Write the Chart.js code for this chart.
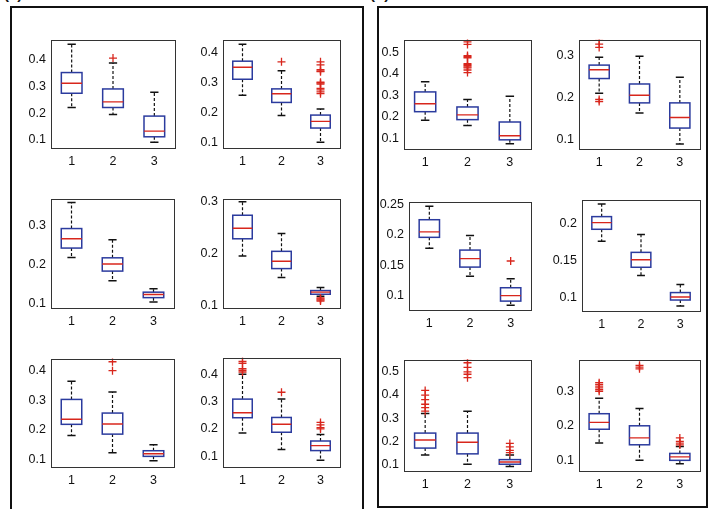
<!DOCTYPE html>
<html>
<head>
<meta charset="utf-8">
<script src="https://cdn.jsdelivr.net/npm/chart.js@4.4.0/dist/chart.umd.min.js"></script>
<style>
  html, body { margin: 0; padding: 0; background: #fff; }
  #page { position: relative; width: 710px; height: 509px; overflow: hidden; background: #fff; }
  .panel { position: absolute; border: 2px solid #111; box-sizing: border-box; }
  .ptitle { position: absolute; font: bold 15px 'Liberation Sans', Arial, sans-serif; color: #111; white-space: nowrap; }
  canvas { position: absolute; }
</style>
</head>
<body>
<div id="page"></div>
<script>
// Panel headings and group labels
const panelTitles = ['(a)', '(b)'];
const categories = ['1', '2', '3'];

// Box statistics, one row per small plot (a1..a6, b1..b6), one value per group
const upperWhisker = [
  [0.456, 0.387, 0.278],
  [0.4265, 0.338, 0.211],
  [0.360, 0.264, 0.139],
  [0.299, 0.238, 0.135],
  [0.364, 0.328, 0.150],
  [0.400, 0.309, 0.180],
  [0.363, 0.281, 0.296],
  [0.296, 0.298, 0.248],
  [0.247, 0.199, 0.128],
  [0.226, 0.185, 0.118],
  [0.320, 0.330, 0.140],
  [0.280, 0.250, 0.140]
];
const upperQuartile = [
  [0.351, 0.290, 0.189],
  [0.370, 0.278, 0.191],
  [0.293, 0.218, 0.130],
  [0.273, 0.204, 0.129],
  [0.303, 0.257, 0.130],
  [0.309, 0.242, 0.156],
  [0.316, 0.246, 0.176],
  [0.277, 0.232, 0.187],
  [0.225, 0.175, 0.113],
  [0.209, 0.161, 0.107],
  [0.235, 0.235, 0.120],
  [0.235, 0.200, 0.120]
];
const medians = [
  [0.311, 0.242, 0.133],
  [0.350, 0.262, 0.170],
  [0.267, 0.202, 0.124],
  [0.248, 0.185, 0.126],
  [0.236, 0.220, 0.120],
  [0.259, 0.217, 0.139],
  [0.261, 0.209, 0.112],
  [0.266, 0.205, 0.152],
  [0.205, 0.161, 0.100],
  [0.201, 0.151, 0.101],
  [0.205, 0.195, 0.110],
  [0.210, 0.165, 0.110]
];
const lowerQuartile = [
  [0.274, 0.221, 0.112],
  [0.310, 0.233, 0.148],
  [0.243, 0.184, 0.116],
  [0.228, 0.171, 0.122],
  [0.219, 0.186, 0.111],
  [0.241, 0.188, 0.121],
  [0.224, 0.187, 0.093],
  [0.245, 0.187, 0.127],
  [0.196, 0.147, 0.091],
  [0.192, 0.141, 0.097],
  [0.170, 0.145, 0.100],
  [0.190, 0.145, 0.100]
];
const lowerWhisker = [
  [0.221, 0.195, 0.092],
  [0.257, 0.190, 0.101],
  [0.219, 0.159, 0.105],
  [0.195, 0.154, 0.118],
  [0.181, 0.123, 0.096],
  [0.185, 0.125, 0.086],
  [0.184, 0.160, 0.075],
  [0.210, 0.163, 0.089],
  [0.178, 0.132, 0.084],
  [0.176, 0.130, 0.089],
  [0.140, 0.100, 0.090],
  [0.150, 0.100, 0.090]
];
const outliers = [
  [[], [0.405], []],
  [[], [0.368], [0.368, 0.358, 0.342, 0.338, 0.335, 0.300, 0.297, 0.294, 0.280, 0.275, 0.268, 0.262]],
  [[], [], []],
  [[], [], [0.115, 0.113, 0.111, 0.109]],
  [[], [0.430, 0.400], []],
  [[0.447, 0.440, 0.420, 0.414, 0.408], [0.334], [0.224, 0.215, 0.205, 0.200]],
  [[], [0.549, 0.537, 0.485, 0.480, 0.475, 0.448, 0.443, 0.438, 0.433, 0.428, 0.418, 0.406], []],
  [[0.336, 0.327, 0.319, 0.195, 0.190], [], []],
  [[], [], [0.157]],
  [[], [], []],
  [[0.42, 0.40, 0.38, 0.36, 0.345, 0.33], [0.55, 0.54, 0.52, 0.50, 0.49, 0.475], [0.19, 0.175, 0.16, 0.15]],
  [[0.325, 0.32, 0.315, 0.31, 0.305, 0.30], [0.375, 0.37, 0.365], [0.165, 0.155, 0.15, 0.145]]
];

// Value axis ticks and limits of each small plot
const yTicks = [
  [0.1, 0.2, 0.3, 0.4],
  [0.1, 0.2, 0.3, 0.4],
  [0.1, 0.2, 0.3],
  [0.1, 0.2, 0.3],
  [0.1, 0.2, 0.3, 0.4],
  [0.1, 0.2, 0.3, 0.4],
  [0.1, 0.2, 0.3, 0.4, 0.5],
  [0.1, 0.2, 0.3],
  [0.1, 0.15, 0.2, 0.25],
  [0.1, 0.15, 0.2],
  [0.1, 0.2, 0.3, 0.4, 0.5],
  [0.1, 0.2, 0.3]
];
const yMin = [0.074, 0.085, 0.092, 0.0976, 0.0785, 0.0647, 0.055, 0.0795, 0.078, 0.0836, 0.075, 0.072];
const yMax = [0.474, 0.442, 0.370, 0.305, 0.441, 0.461, 0.560, 0.338, 0.255, 0.232, 0.554, 0.392];

// Page layout: plot frames [left, top, right, bottom] in pixels
const frames = [
  [50.7, 35, 174.3, 147.3], [222.7, 35, 340, 147.3],
  [51, 194, 174.3, 307.3], [222.7, 194, 339.3, 307.3],
  [51, 354, 174.3, 466], [222.7, 353.3, 340, 466],
  [404.3, 35, 531, 148.3], [579.3, 35, 700, 148.3],
  [409.3, 196.7, 531, 309], [581.7, 195, 700, 310],
  [404.3, 355, 531, 470], [579.3, 355, 700, 470]
];
const panelBoxes = [[10, 6, 354, 520], [377, 6, 331, 502]];
const titlePos = [[4, -15], [370, -15]];

const Y_AXIS_W = 44, PAD_TOP = 8, PAD_RIGHT = 6, X_AXIS_H = 30;
const FONT = { family: "'Liberation Sans', Arial, Helvetica, sans-serif", size: 12.5 };
const BOX_BLUE = '#2b3b9e', MED_RED = '#d8261c', WHISK = '#111111', OUT_RED = '#d8261c';

const page = document.getElementById('page');
panelBoxes.forEach(([l, t, w, h], i) => {
  const d = document.createElement('div');
  d.className = 'panel';
  Object.assign(d.style, { left: l + 'px', top: t + 'px', width: w + 'px', height: h + 'px' });
  page.appendChild(d);
  const tt = document.createElement('div');
  tt.className = 'ptitle';
  tt.textContent = panelTitles[i];
  tt.style.left = titlePos[i][0] + 'px';
  tt.style.top = titlePos[i][1] + 'px';
  page.appendChild(tt);
});

// Draws boxes, medians, dashed whiskers and caps through the chart scales
const boxPlotPlugin = {
  id: 'boxPlot',
  beforeDatasetsDraw(chart, args, opts) {
    const i = opts.index;
    const { ctx, chartArea: ca } = chart;
    const xs = chart.scales.x, ys = chart.scales.y;
    ctx.save();
    ctx.beginPath();
    ctx.rect(ca.left, ca.top, ca.right - ca.left, ca.bottom - ca.top);
    ctx.clip();
    for (let k = 0; k < categories.length; k++) {
      const cx = xs.getPixelForValue(k + 1);
      const hw = xs.getPixelForValue(k + 1.25) - cx;
      const cw = xs.getPixelForValue(k + 1.1) - cx;
      const pUp = ys.getPixelForValue(upperWhisker[i][k]);
      const pQ3 = ys.getPixelForValue(upperQuartile[i][k]);
      const pMed = ys.getPixelForValue(medians[i][k]);
      const pQ1 = ys.getPixelForValue(lowerQuartile[i][k]);
      const pLo = ys.getPixelForValue(lowerWhisker[i][k]);
      // whiskers
      ctx.strokeStyle = WHISK;
      ctx.lineWidth = 1.2;
      ctx.setLineDash([3, 2]);
      ctx.beginPath();
      ctx.moveTo(cx, pQ3); ctx.lineTo(cx, pUp);
      ctx.moveTo(cx, pQ1); ctx.lineTo(cx, pLo);
      ctx.stroke();
      ctx.setLineDash([]);
      ctx.lineWidth = 1.5;
      ctx.beginPath();
      ctx.moveTo(cx - cw, pUp); ctx.lineTo(cx + cw, pUp);
      ctx.moveTo(cx - cw, pLo); ctx.lineTo(cx + cw, pLo);
      ctx.stroke();
      // box
      ctx.strokeStyle = BOX_BLUE;
      ctx.lineWidth = 1.5;
      ctx.strokeRect(cx - hw, pQ3, 2 * hw, pQ1 - pQ3);
      // median
      ctx.strokeStyle = MED_RED;
      ctx.lineWidth = 1.4;
      ctx.beginPath();
      ctx.moveTo(cx - hw, pMed); ctx.lineTo(cx + hw, pMed);
      ctx.stroke();
    }
    ctx.restore();
  },
  afterDraw(chart) {
    const { ctx, chartArea: ca } = chart;
    ctx.save();
    ctx.strokeStyle = '#333';
    ctx.lineWidth = 1;
    ctx.strokeRect(Math.round(ca.left) + 0.5, Math.round(ca.top) + 0.5,
      Math.round(ca.right - ca.left), Math.round(ca.bottom - ca.top));
    ctx.restore();
  }
};

frames.forEach(([l, t, r, b], i) => {
  const cv = document.createElement('canvas');
  const w = Math.round(r - l) + Y_AXIS_W + PAD_RIGHT;
  const h = Math.round(b - t) + PAD_TOP + X_AXIS_H;
  cv.width = w; cv.height = h;
  cv.style.left = Math.round(l - Y_AXIS_W) + 'px';
  cv.style.top = Math.round(t - PAD_TOP) + 'px';
  cv.style.width = w + 'px'; cv.style.height = h + 'px';
  page.appendChild(cv);

  const outlierPoints = [];
  outliers[i].forEach((vals, k) => vals.forEach(v => outlierPoints.push({ x: k + 1, y: v })));

  new Chart(cv, {
    type: 'scatter',
    data: {
      datasets: [{
        data: outlierPoints,
        pointStyle: 'cross',
        pointRadius: 4,
        borderColor: OUT_RED,
        backgroundColor: OUT_RED,
        borderWidth: 1.3
      }]
    },
    options: {
      responsive: false,
      animation: false,
      events: [],
      devicePixelRatio: 1,
      layout: { padding: { top: PAD_TOP, right: PAD_RIGHT, left: 0, bottom: 0 } },
      plugins: { legend: { display: false }, tooltip: { enabled: false }, boxPlot: { index: i } },
      scales: {
        x: {
          type: 'linear', min: 0.5, max: 3.5,
          afterBuildTicks: s => { s.ticks = categories.map((c, k) => ({ value: k + 1 })); },
          afterFit: s => { s.height = X_AXIS_H; },
          ticks: { callback: v => categories[Math.round(v) - 1], font: FONT, color: '#111', padding: 7, maxRotation: 0, autoSkip: false },
          grid: { display: false, drawTicks: false },
          border: { display: false }
        },
        y: {
          type: 'linear', min: yMin[i], max: yMax[i],
          afterBuildTicks: s => { s.ticks = yTicks[i].map(v => ({ value: v })); },
          afterFit: s => { s.width = Y_AXIS_W; },
          ticks: { callback: v => String(v), font: FONT, color: '#111', padding: 5, autoSkip: false },
          grid: { display: false, drawTicks: false },
          border: { display: false }
        }
      }
    },
    plugins: [boxPlotPlugin]
  });
});
</script>
</body>
</html>
